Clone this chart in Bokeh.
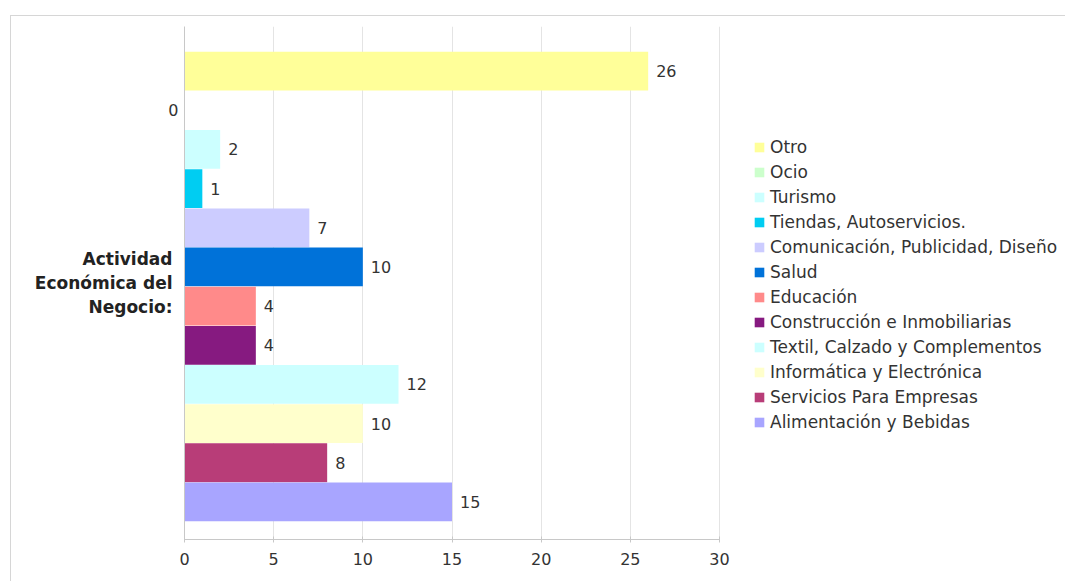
from bokeh.plotting import figure
from bokeh.models import (Range1d, FixedTicker, ColumnDataSource, LinearAxis,
                          LabelSet, Legend, LegendItem)
from bokeh.embed import file_html
from bokeh.resources import INLINE
from bokeh.core.properties import value

# ---- data (top to bottom as drawn) ----
categories = [
    "Otro", "Ocio", "Turismo", "Tiendas, Autoservicios.",
    "Comunicación, Publicidad, Diseño", "Salud", "Educación",
    "Construcción e Inmobiliarias", "Textil, Calzado y Complementos",
    "Informática y Electrónica", "Servicios Para Empresas",
    "Alimentación y Bebidas",
]
counts = [26, 0, 2, 1, 7, 10, 4, 4, 12, 10, 8, 15]
colors = [
    "#ffff99", "#ccffcc", "#ccffff", "#00cdf2", "#ccccff", "#0072d9",
    "#ff8a8a", "#861a80", "#ccffff", "#ffffcc", "#b83d78", "#a8a5ff",
]
group_label = "Actividad\nEconómica del\nNegocio:"
x_ticks = [0, 5, 10, 15, 20, 25, 30]

FONT = "DejaVu Sans"
n = len(categories)
pos = [n - 1 - i for i in range(n)]

src = ColumnDataSource(dict(name=categories, count=counts, color=colors, pos=pos))
nz = [i for i in range(n) if counts[i] > 0]
lab_src = ColumnDataSource(dict(count=[counts[i] for i in nz],
                                pos=[pos[i] for i in nz],
                                txt=[str(counts[i]) for i in nz]))
zero_pos = [pos[i] for i in range(n) if counts[i] == 0]

# layout: the plotting frame spans to the right edge so the legend fits
W, H = 1055, 566
LEFT, TOP, BOTTOM = 173, 10, 43
AXIS_PX = 535                       # pixel length of the 0..30 value axis
frame_w = W - LEFT
x_min, x_max = x_ticks[0], x_ticks[-1]
x_end = x_min + (x_max - x_min) * frame_w / AXIS_PX

y_start, y_end = -0.96, n - 1 + 1.14
p = figure(width=W, height=H, x_range=Range1d(x_min, x_end),
           y_range=Range1d(y_start, y_end),
           output_backend="svg", toolbar_location=None,
           min_border_left=LEFT, min_border_right=0,
           min_border_top=TOP, min_border_bottom=BOTTOM,
           x_axis_location=None, y_axis_location=None,
           margin=(15, 0, 0, 10))
p.styles = {"border-left": "1px solid #d6d6d6", "border-top": "1px solid #d6d6d6"}
p.outline_line_color = None
p.background_fill_color = "white"
p.border_fill_color = "white"

r = p.hbar(y="pos", left=0, right="count", height=0.99, fill_color="color",
           line_color=None, source=src)

labels = LabelSet(x="count", y="pos", text="txt", source=lab_src,
                  x_offset=8, text_align="left", text_baseline="middle",
                  text_font=value(FONT), text_font_size="16px",
                  text_color="#333333")
p.add_layout(labels)

xaxis = LinearAxis(ticker=FixedTicker(ticks=x_ticks), bounds=(x_min, x_max))
xaxis.axis_line_color = "#c8c8c8"
xaxis.major_tick_line_color = "#c8c8c8"
xaxis.major_tick_in = 3
xaxis.major_tick_out = 3
xaxis.minor_tick_line_color = None
xaxis.major_label_standoff = 10
xaxis.major_label_text_font = FONT
xaxis.major_label_text_font_size = "16px"
xaxis.major_label_text_color = "#333333"
p.add_layout(xaxis, "below")

# inner left axis: the axis line and the label of the empty bar
yaxis0 = LinearAxis(ticker=FixedTicker(ticks=zero_pos),
                    major_label_overrides={zp: "0" for zp in zero_pos})
yaxis0.axis_line_color = "#c8c8c8"
yaxis0.major_tick_line_color = None
yaxis0.major_tick_out = 0
yaxis0.major_tick_in = 0
yaxis0.minor_tick_line_color = None
yaxis0.major_label_standoff = 6
yaxis0.major_label_text_font = FONT
yaxis0.major_label_text_font_size = "16px"
yaxis0.major_label_text_color = "#333333"
p.add_layout(yaxis0, "left")

# outer left axis: the group label
mid = (y_start + y_end) / 2
yaxis = LinearAxis(ticker=FixedTicker(ticks=[mid]),
                   major_label_overrides={mid: group_label})
yaxis.axis_line_color = None
yaxis.major_tick_line_color = None
yaxis.major_tick_out = 0
yaxis.major_tick_in = 0
yaxis.minor_tick_line_color = None
yaxis.major_label_standoff = -7
yaxis.major_label_text_font = FONT
yaxis.major_label_text_font_style = "bold"
yaxis.major_label_text_font_size = "17px"
yaxis.major_label_text_color = "#222222"
p.add_layout(yaxis, "left")

p.xgrid.grid_line_color = "#e4e4e4"
p.xgrid.ticker = FixedTicker(ticks=x_ticks)
p.ygrid.grid_line_color = None

items = [LegendItem(label=c, renderers=[r], index=i) for i, c in enumerate(categories)]
lg = Legend(items=items, location=(569, 107))
lg.border_line_color = None
lg.background_fill_alpha = 0
lg.padding = 0
lg.margin = 0
lg.spacing = 5
lg.glyph_width = 12
lg.glyph_height = 12
lg.label_height = 20
lg.label_standoff = 5
lg.label_text_font = FONT
lg.label_text_font_size = "17px"
lg.label_text_color = "#333333"
lg.label_text_baseline = "middle"
p.add_layout(lg, "center")

open("out.html", "w").write(file_html(p, INLINE))
